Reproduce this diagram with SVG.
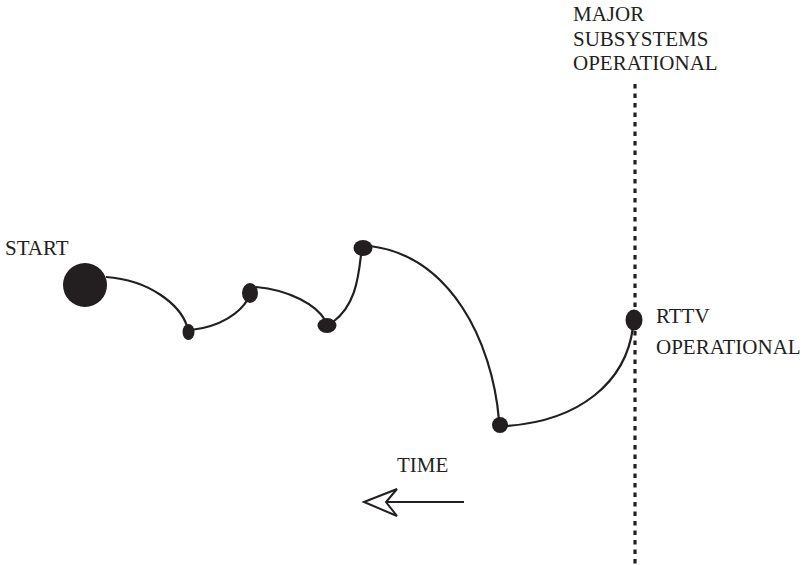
<svg xmlns="http://www.w3.org/2000/svg" width="807" height="565" viewBox="0 0 807 565">
  <style>
    .lbl { font-family: "Liberation Serif", "Times New Roman", serif; font-size: 21px; fill: #231f20; }
    .path { fill: none; stroke: #231f20; stroke-width: 2.2; }
    .node { fill: #231f20; }
  </style>
  <rect width="807" height="565" fill="#ffffff"/>

  <!-- milestone line -->
  <g id="milestone">
    <line x1="635" y1="84" x2="635" y2="565" stroke="#231f20" stroke-width="3.2" stroke-dasharray="4.5 5"/>
    <text class="lbl" x="573" y="21">MAJOR</text>
    <text class="lbl" x="573" y="46">SUBSYSTEMS</text>
    <text class="lbl" x="573" y="70">OPERATIONAL</text>
  </g>

  <!-- connectors -->
  <g id="connectors">
    <path class="path" d="M106,277 C150,280 180,305 187,326"/>
    <path class="path" d="M191,330 C220,327 240,313 248,299"/>
    <path class="path" d="M256,287 C290,290 316,305 325,320"/>
    <path class="path" d="M333,322 C354,306 358,282 361,255"/>
    <path class="path" d="M370,246 C450,256 492,340 499,420"/>
    <path class="path" d="M506,426 C580,421 626,382 633,327"/>
  </g>

  <!-- nodes -->
  <g id="start">
    <circle class="node" cx="85" cy="285" r="22"/>
    <text class="lbl" x="5" y="255">START</text>
  </g>
  <g id="n1"><ellipse class="node" cx="188.5" cy="332" rx="6" ry="8"/></g>
  <g id="n2"><ellipse class="node" cx="250" cy="293" rx="8" ry="10"/></g>
  <g id="n3"><ellipse class="node" cx="327" cy="325.5" rx="9.5" ry="7.5"/></g>
  <g id="n4"><ellipse class="node" cx="363" cy="248" rx="9.5" ry="8"/></g>
  <g id="n5"><ellipse class="node" cx="500" cy="425" rx="8" ry="8"/></g>
  <g id="rttv">
    <ellipse class="node" cx="634" cy="320" rx="8.5" ry="10.5"/>
    <text class="lbl" x="656" y="323">RTTV</text>
    <text class="lbl" x="656" y="354">OPERATIONAL</text>
  </g>

  <!-- time arrow -->
  <g id="time">
    <text class="lbl" x="397" y="472">TIME</text>
    <line x1="464" y1="502" x2="386" y2="502" stroke="#231f20" stroke-width="2"/>
    <polygon points="364,502 397,489 386,502 397,516" fill="#ffffff" stroke="#231f20" stroke-width="2" stroke-linejoin="miter"/>
  </g>
</svg>
